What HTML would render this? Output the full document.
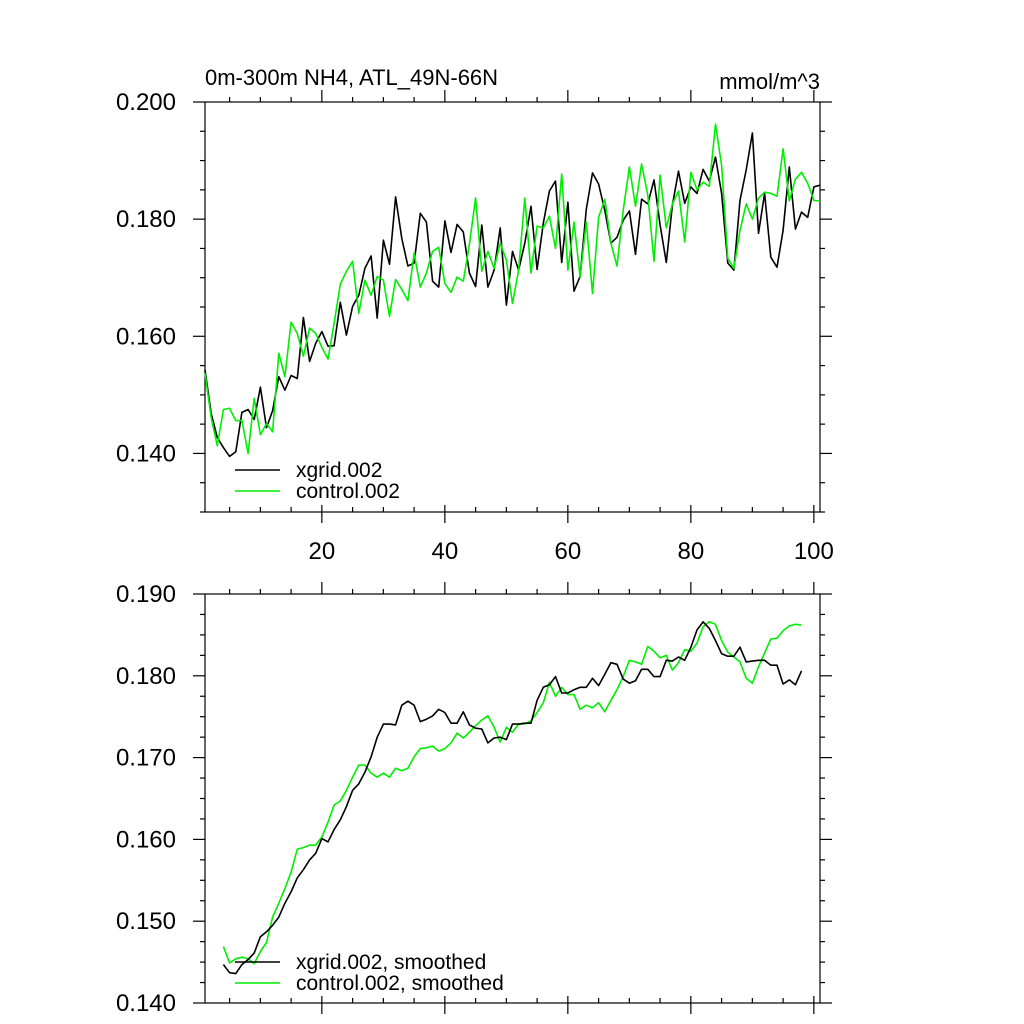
<!DOCTYPE html>
<html><head><meta charset="utf-8"><style>
html,body{margin:0;padding:0;background:#fff;}
svg{display:block;font-family:"Liberation Sans",sans-serif;}
</style></head><body>
<svg id="c" width="1024" height="1024" viewBox="0 0 1024 1024">
<text x="205" y="85" font-size="22">0m-300m NH4, ATL_49N-66N</text>
<text x="820" y="89" font-size="22" text-anchor="end">mmol/m^3</text>
</svg>
<script>
const topXgrid=[0.1543,0.1468,0.1427,0.1410,0.1395,0.1403,0.1470,0.1475,0.1458,0.1513,0.1444,0.1473,0.1531,0.1508,0.1533,0.1528,0.1632,0.1557,0.1588,0.1608,0.1583,0.1584,0.1658,0.1602,0.1651,0.1670,0.1716,0.1737,0.1631,0.1764,0.1723,0.1838,0.1767,0.1720,0.1725,
0.1810,0.1795,0.1694,0.1684,0.1797,0.1743,0.1791,0.1778,0.1708,0.1685,0.1790,0.1684,0.1713,0.1785,0.1653,0.1745,0.1713,0.1759,0.1822,0.1714,0.1793,0.1848,0.1865,0.1726,0.1829,0.1677,0.1702,0.1817,0.1879,0.1860,0.1815,0.1759,0.1769,
0.1798,0.1814,0.1740,0.1834,0.1826,0.1867,0.1790,0.1726,0.1824,0.1882,0.1827,0.1855,0.1844,0.1885,0.1865,0.1906,0.1844,0.1725,0.1713,0.1832,0.1884,0.1947,0.1776,0.1844,0.1735,0.1718,0.1781,0.1889,0.1783,0.1812,0.1803,0.1855,0.1858];
const topControl=[0.1537,0.1461,0.1413,0.1475,0.1477,0.1456,0.1456,0.1400,0.1494,0.1432,0.1451,0.1437,0.1571,0.1531,0.1624,0.1605,0.1566,0.1614,0.1605,0.1581,0.1561,0.1622,0.1689,0.1711,0.1728,0.1639,0.1696,0.1670,0.1702,0.1696,0.1634,0.1697,0.1680,0.1661,0.1742,
0.1684,0.1708,0.1745,0.1752,0.1690,0.1675,0.1701,0.1694,0.1757,0.1836,0.1711,0.1745,0.1716,0.1759,0.1730,0.1656,0.1713,0.1836,0.1708,0.1788,0.1785,0.1805,0.1750,0.1877,0.1713,0.1795,0.1701,0.1795,0.1673,0.1803,0.1834,0.1759,0.1720,
0.1815,0.1889,0.1822,0.1894,0.1841,0.1728,0.1875,0.1785,0.1826,0.1848,0.1761,0.1880,0.1850,0.1863,0.1856,0.1962,0.1892,0.1733,0.1716,0.1781,0.1826,0.1800,0.1836,0.1846,0.1844,0.1839,0.1920,0.1831,0.1868,0.1880,0.1861,0.1832,0.1831];
const smoothStart=4;
const botXgrid=[0.1447,0.1437,0.1436,0.1447,0.1453,0.1461,0.1481,0.1487,0.1495,0.1505,0.1522,0.1536,0.1553,0.1563,0.1575,0.1583,0.1601,0.1597,0.1612,0.1624,0.1640,0.1660,0.1668,0.1682,0.1701,0.1725,0.1741,0.1741,0.1740,0.1764,0.1769,0.1764,0.1744,0.1747,0.1751,0.1759,0.1755,0.1742,0.1742,0.1756,0.1740,0.1736,0.1735,0.1718,0.1724,0.1725,0.1722,0.1741,0.1741,
0.1742,0.1742,0.1770,0.1786,0.1789,0.1799,0.1779,0.1779,0.1783,0.1786,0.1786,0.1797,0.1788,0.1802,0.1816,0.1814,0.1796,0.1791,0.1794,0.1808,0.1808,0.1799,0.1799,0.1819,0.1818,0.1823,0.1819,0.1835,0.1856,0.1866,0.1858,0.1843,0.1827,0.1824,0.1824,0.1835,0.1817,0.1818,0.1819,0.1819,0.1813,0.1813,0.1790,0.1795,0.1789,0.1806];
const botControl=[0.1469,0.1449,0.1454,0.1456,0.1454,0.1448,0.1463,0.1474,0.1505,0.1522,0.1540,0.1560,0.1588,0.1590,0.1593,0.1593,0.1603,0.1621,0.1642,0.1647,0.1660,0.1676,0.1691,0.1691,0.1681,0.1676,0.1681,0.1676,0.1687,0.1684,0.1687,0.1701,0.1711,0.1712,0.1714,0.1708,0.1711,0.1718,0.1730,0.1724,0.1731,0.1739,0.1746,0.1751,0.1737,0.1719,0.1737,0.1731,0.1741,
0.1741,0.1745,0.1755,0.1767,0.1792,0.1775,0.1786,0.1777,0.1777,0.1759,0.1764,0.1761,0.1767,0.1756,0.1770,0.1783,0.1799,0.1819,0.1817,0.1814,0.1836,0.1830,0.1822,0.1825,0.1807,0.1816,0.1832,0.1830,0.1840,0.1860,0.1866,0.1863,0.1843,0.1829,0.1823,0.1817,0.1797,0.1791,0.1811,0.1828,0.1845,0.1846,0.1855,0.1861,0.1863,0.1862];
const xTickLabels=["20","40","60","80","100"];
const topYTickLabels=["0.140","0.160","0.180","0.200"];
const botYTickLabels=["0.140","0.150","0.160","0.170","0.180","0.190"];

const NS="http://www.w3.org/2000/svg";
const svg=document.getElementById('c');
function mk(t,a,parent){const e=document.createElementNS(NS,t);for(const k in a)e.setAttribute(k,a[k]);(parent||svg).appendChild(e);return e;}
const L=205,R=820;
const xs=v=>L+(v-1)*(R-L)/100;

function panel(name,top,bot,ymin,ymax,minorStep,yLabels,showX){
  const ys=v=>bot-(v-ymin)/(ymax-ymin)*(bot-top);
  const g=mk('g',{});
  
  
  const st={stroke:'#000','stroke-width':1.2};
  for(let v=5;v<=100;v+=5){
    const x=xs(v),maj=v%20===0;
    const t1=mk('line',Object.assign({x1:x,x2:x,y1:top,y2:top-(maj?12:5)},st),g);
    
    
    const t2=mk('line',Object.assign({x1:x,x2:x,y1:bot-(maj?7:5),y2:bot+(maj?11:0)},st),g);
    
    
  }
  const n=Math.round((ymax-ymin)/minorStep);
  for(let i=0;i<=n;i++){
    const v=ymin+i*minorStep,y=ys(v);
    const maj=yLabels.some(l=>Math.abs(parseFloat(l)-v)<1e-9);
    const t1=mk('line',Object.assign({x1:L,x2:L-(maj?12:5),y1:y,y2:y},st),g);
    
    
    const t2=mk('line',Object.assign({x1:R,x2:R+(maj?12:5),y1:y,y2:y},st),g);
    
    
  }
  yLabels.forEach(l=>{
    const t=mk('text',{x:176,y:ys(parseFloat(l))+8,'font-size':24,'text-anchor':'end'},g);
    t.textContent=l;
    
    
  });
  if(showX){
    xTickLabels.forEach(l=>{
      const t=mk('text',{x:xs(+l),y:bot+47,'font-size':24,'text-anchor':'middle'},g);
      t.textContent=l;
      
      
    });
  }
  const fr=mk('rect',{x:L,y:top,width:R-L,height:bot-top,fill:'none',stroke:'#000','stroke-width':1.2},g);
  
  
  return ys;
}
function series(name,arr,start,ys,color){
  const p=arr.map((v,i)=>xs(start+i).toFixed(1)+','+ys(v).toFixed(1)).join(' ');
  const e=mk('polyline',{points:p,fill:'none',stroke:color,'stroke-width':1.6,'stroke-linejoin':'round'});
  
  
}
function legend(y,color,label,name){
  const l=mk('line',{x1:235,x2:280,y1:y,y2:y,stroke:color,'stroke-width':1.6});
  
  
  const t=mk('text',{x:296,y:y+7,'font-size':21});
  t.textContent=label;
  
  
}
const ysTop=panel('top-panel',102,512,0.130,0.200,0.005,topYTickLabels,true);
series('top-xgrid-line',topXgrid,1,ysTop,'#000');
series('top-control-line',topControl,1,ysTop,'#00ee00');
legend(470,'#000','xgrid.002','top-legend-xgrid');
legend(491,'#00ee00','control.002','top-legend-control');
const ysBot=panel('bottom-panel',594,1003,0.140,0.190,0.0025,botYTickLabels,false);
series('bottom-control-line',botControl,smoothStart,ysBot,'#00ee00');
series('bottom-xgrid-line',botXgrid,smoothStart,ysBot,'#000');
legend(962,'#000','xgrid.002, smoothed','bottom-legend-xgrid');
legend(983,'#00ee00','control.002, smoothed','bottom-legend-control');
</script>
</body></html>
